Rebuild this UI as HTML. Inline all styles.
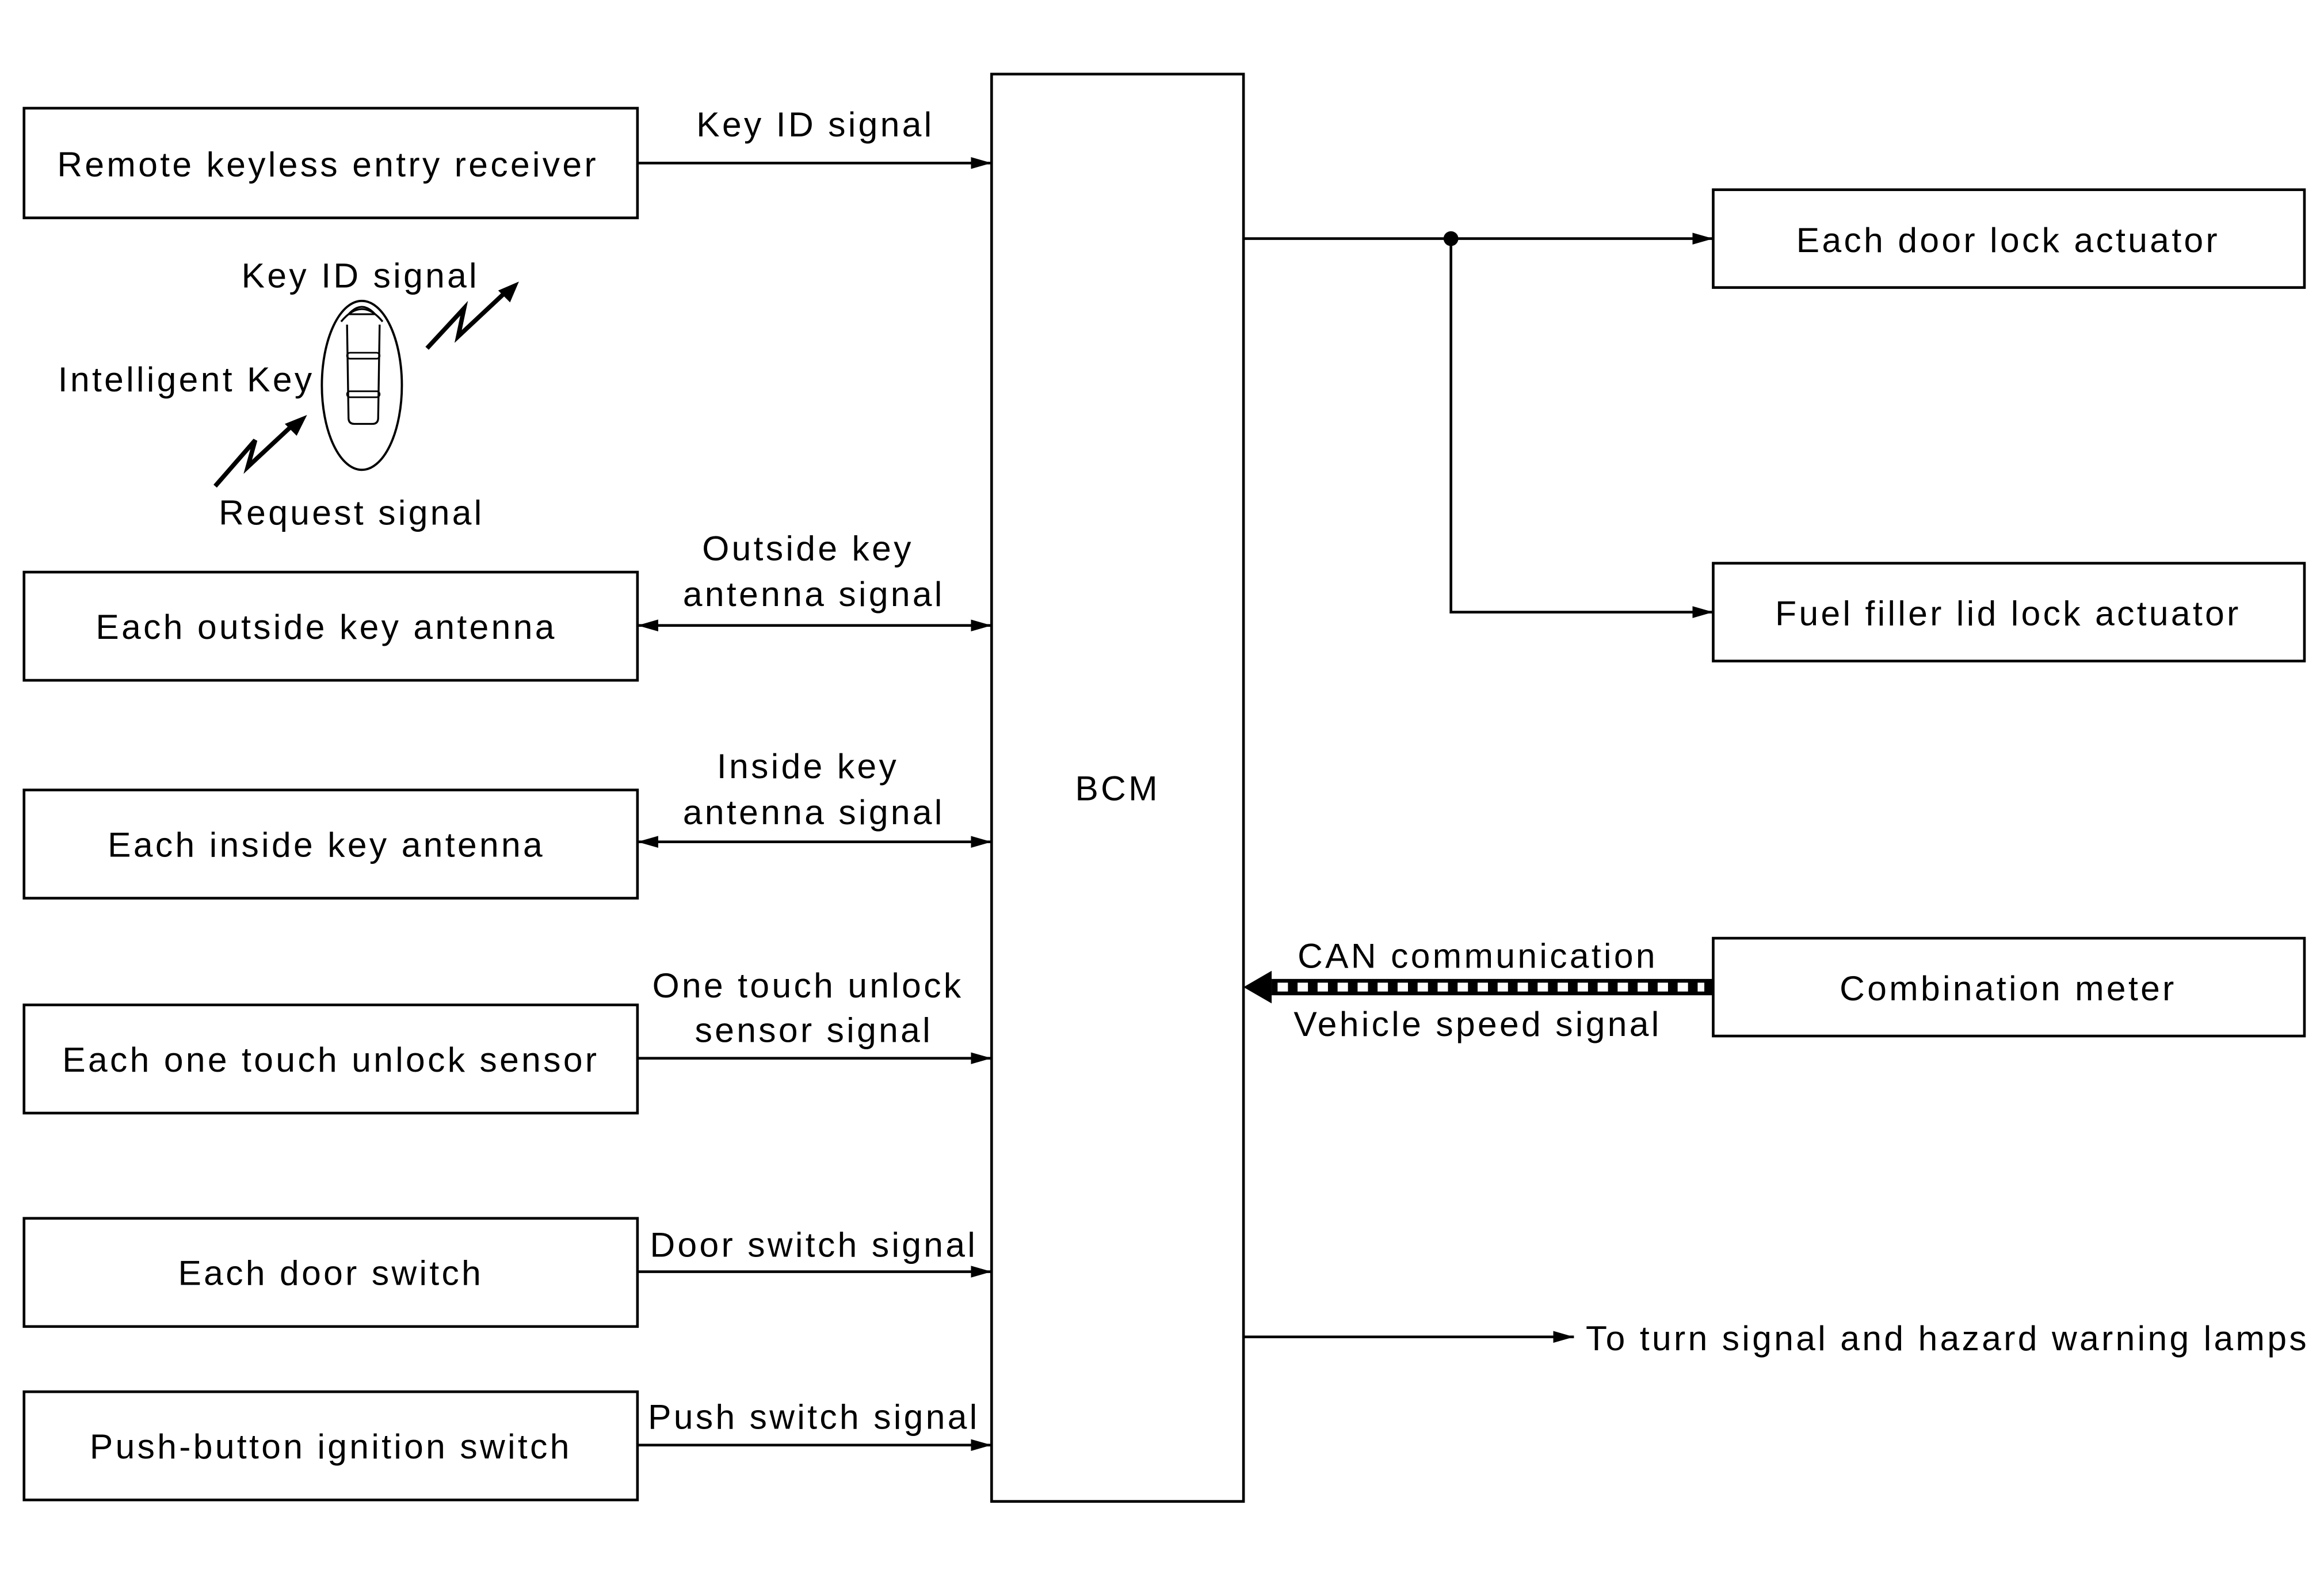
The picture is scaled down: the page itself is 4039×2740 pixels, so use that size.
<!DOCTYPE html>
<html><head><meta charset="utf-8"><style>
html,body{margin:0;padding:0;background:#fff;}
svg{display:block;}
text{font-family:"Liberation Sans",sans-serif;font-size:23.5px;letter-spacing:1.7px;fill:#000;}
</style></head><body>
<svg width="4039" height="2740" viewBox="0 0 1568 1064" xmlns="http://www.w3.org/2000/svg">
<defs>
<marker id="a" markerWidth="14" markerHeight="10" refX="14" refY="5" orient="auto" markerUnits="userSpaceOnUse"><path d="M0,1 L14,5 L0,9 Z" fill="#000"/></marker>
<marker id="s" markerWidth="14" markerHeight="10" refX="0" refY="5" orient="auto" markerUnits="userSpaceOnUse"><path d="M14,1 L0,5 L14,9 Z" fill="#000"/></marker>
</defs>
<g fill="none" stroke="#000" stroke-width="1.8">
<rect x="16" y="73" width="414" height="74"/>
<rect x="16" y="386" width="414" height="73"/>
<rect x="16" y="533" width="414" height="73"/>
<rect x="16" y="678" width="414" height="73"/>
<rect x="16" y="822" width="414" height="73"/>
<rect x="16" y="939" width="414" height="73"/>
<rect x="669" y="50" width="170" height="963"/>
<rect x="1156" y="128" width="399" height="66"/>
<rect x="1156" y="380" width="399" height="66"/>
<rect x="1156" y="633" width="399" height="66"/>
<line x1="430" y1="110" x2="669" y2="110" marker-end="url(#a)"/>
<line x1="430" y1="422" x2="669" y2="422" marker-end="url(#a)" marker-start="url(#s)"/>
<line x1="430" y1="568" x2="669" y2="568" marker-end="url(#a)" marker-start="url(#s)"/>
<line x1="430" y1="714" x2="669" y2="714" marker-end="url(#a)"/>
<line x1="430" y1="858" x2="669" y2="858" marker-end="url(#a)"/>
<line x1="430" y1="975" x2="669" y2="975" marker-end="url(#a)"/>
<line x1="839" y1="161" x2="1156" y2="161" marker-end="url(#a)"/>
<polyline points="979,161 979,413 1156,413" marker-end="url(#a)"/>
<line x1="839" y1="902" x2="1062" y2="902" marker-end="url(#a)"/>
<!-- key -->
<ellipse cx="244" cy="260" rx="27" ry="57" stroke-width="1.5"/>
<path d="M234,219 L235,282 Q235,286 239,286 L251,286 Q255,286 255,282 L256,219" stroke-width="1.3"/>
<path d="M230,217 Q244,200 258,217" stroke-width="1.3"/>
<path d="M235,212 Q244,202 253,212 Z" stroke-width="1.2"/>
<rect x="234" y="238" width="22" height="4" rx="2" stroke-width="1.1"/>
<rect x="234" y="264" width="22" height="4" rx="2" stroke-width="1.1"/>
</g>
<circle cx="979" cy="161" r="5" fill="#000"/>
<!-- lightning arrows -->
<g fill="none" stroke="#000" stroke-width="3">
<polyline points="288,235 313,208 309,227 340,198"/>
<polyline points="145,328 172,297 167,315 196,288"/>
</g>
<polygon points="350,190 336,196 344,204" fill="#000"/>
<polygon points="207,280 192,286 200,294" fill="#000"/>
<!-- CAN arrow -->
<line x1="858" y1="666" x2="1156" y2="666" stroke="#000" stroke-width="11"/>
<line x1="862" y1="666" x2="1150" y2="666" stroke="#fff" stroke-width="6" stroke-dasharray="7,6.5"/>
<polygon points="839,666 858,655 858,677" fill="#000"/>
<g text-anchor="middle">
<text x="221" y="119">Remote keyless entry receiver</text>
<text x="220" y="431">Each outside key antenna</text>
<text x="220" y="578">Each inside key antenna</text>
<text x="223" y="723">Each one touch unlock sensor</text>
<text x="223" y="867">Each door switch</text>
<text x="223" y="984">Push-button ignition switch</text>
<text x="550" y="92">Key ID signal</text>
<text x="243" y="194">Key ID signal</text>
<text x="237" y="354">Request signal</text>
<text x="545" y="378">Outside key</text>
<text x="549" y="409">antenna signal</text>
<text x="545" y="525">Inside key</text>
<text x="549" y="556">antenna signal</text>
<text x="545" y="673">One touch unlock</text>
<text x="549" y="703">sensor signal</text>
<text x="549" y="848">Door switch signal</text>
<text x="549" y="964">Push switch signal</text>
<text x="754" y="540">BCM</text>
<text x="1355" y="170">Each door lock actuator</text>
<text x="1355" y="422">Fuel filler lid lock actuator</text>
<text x="1355" y="675">Combination meter</text>
<text x="997" y="653">CAN communication</text>
<text x="997" y="699">Vehicle speed signal</text>
</g>
<text x="212" y="264" text-anchor="end">Intelligent Key</text>
<text x="1070" y="911">To turn signal and hazard warning lamps</text>
</svg>
</body></html>
